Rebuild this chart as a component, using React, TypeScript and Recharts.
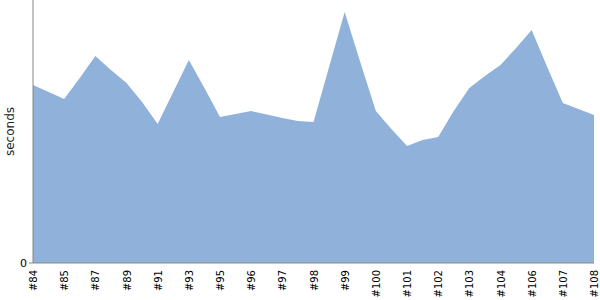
import React from 'react';
import { AreaChart, Area, XAxis, YAxis, Label } from 'recharts';

// build labels; only every second one is shown on the axis
const builds = [
  '#84', '#84a', '#85', '#86', '#87', '#88', '#89', '#90', '#91', '#92',
  '#93', '#94', '#95', '#95a', '#96', '#96a', '#97', '#97a', '#98', '#98a',
  '#99', '#99a', '#100', '#100a', '#101', '#101a', '#102', '#102a', '#103', '#103a',
  '#104', '#105', '#106', '#106a', '#107', '#107a', '#108',
];

const durations = [
  947, 910, 873, 985, 1102, 1027, 958, 857, 740, 910,
  1081, 932, 777, 793, 809, 790, 772, 756, 751, 1043,
  1336, 1070, 809, 713, 623, 655, 671, 809, 932, 995,
  1054, 1144, 1240, 1043, 852, 820, 788,
];

const yTicks = [0];

const data = builds.map((name, i) => ({ name, seconds: durations[i] }));

const font = '"DejaVu Sans", sans-serif';

export default function App() {
  return (
    <div style={{ position: 'absolute', left: 0, top: 0 }}>
      <AreaChart width={600} height={300} data={data} margin={{ top: 0, right: 6, bottom: 0, left: 0 }}>
        <XAxis
          dataKey="name"
          interval={1}
          angle={-90}
          textAnchor="end"
          height={37}
          tickLine={false}
          stroke="#888"
          tick={{ fontSize: 10, fill: '#000', fontFamily: font, dx: -3, dy: -1 }}
        />
        <YAxis
          domain={[0, 1400]}
          ticks={yTicks}
          width={33}
          tickSize={4}
          stroke="#888"
          tick={{ fontSize: 11, fill: '#000', fontFamily: font }}
        >
          <Label
            value="seconds"
            angle={-90}
            position="insideLeft"
            offset={10}
            style={{ fontSize: 12, fill: '#222', fontFamily: font, textAnchor: 'middle' }}
          />
        </YAxis>
        <Area
          type="linear"
          dataKey="seconds"
          stroke="none"
          fill="#8fb1da"
          fillOpacity={1}
          isAnimationActive={false}
        />
      </AreaChart>
    </div>
  );
}
